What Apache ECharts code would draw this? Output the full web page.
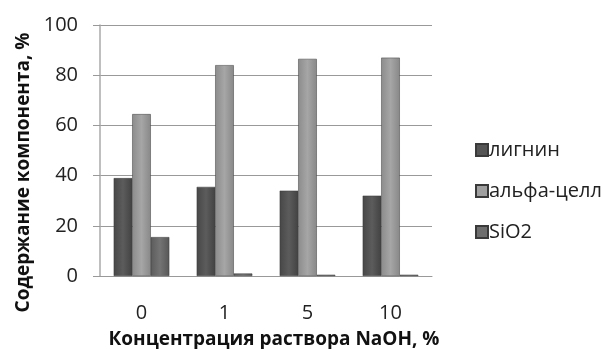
<!DOCTYPE html>
<html><head><meta charset="utf-8">
<script src="https://cdn.jsdelivr.net/npm/echarts@6/dist/echarts.min.js"></script>
<style>html,body{margin:0;padding:0;background:#fff}#c{width:603px;height:349px}</style>
</head><body><div id="c"></div>
<script>
var categories = ['0', '1', '5', '10'];
var lignin = [39, 35.5, 34, 32];
var alphaCell = [64.5, 84, 86.5, 87];
var sio2 = [15.5, 1, 0.5, 0.5];
var seriesNames = ['лигнин', 'альфа-целл', 'SiO2'];
var yTicks = [0, 20, 40, 60, 80, 100];

function grad(c1, c2, c3) {
  return new echarts.graphic.LinearGradient(0, 0, 1, 0, [
    {offset: 0, color: c1}, {offset: 0.5, color: c2}, {offset: 1, color: c3}
  ]);
}
var colors = [grad('#474747', '#5c5c5c', '#424242'), grad('#8c8c8c', '#a6a6a6', '#888'), grad('#5c5c5c', '#747474', '#575757')];
var legendColors = ['#555', '#a0a0a0', '#6e6e6e'];
var font = 'Open Sans';
var chart = echarts.init(document.getElementById('c'));
var data = [lignin, alphaCell, sio2];
chart.setOption({
  animation: false,
  grid: {left: 100, top: 25, width: 332, height: 251, containLabel: false, outerBoundsMode: 'none'},
  legend: {
    orient: 'vertical', left: 470, top: 135, itemGap: 21,
    itemWidth: 12, itemHeight: 12, icon: 'rect',
    textStyle: {fontFamily: font, fontSize: 20, lineHeight: 20, color: '#222', padding: [0, 0, 0, -4]},
    data: seriesNames.map(function (n, i) { return {name: n, itemStyle: {color: legendColors[i]}}; })
  },
  xAxis: {
    type: 'category', data: categories,
    axisLine: {lineStyle: {color: '#999'}},
    axisTick: {show: false},
    axisLabel: {fontFamily: font, fontSize: 20, color: '#222', margin: 27},
    name: 'Концентрация раствора NaOH, %', nameLocation: 'middle', nameGap: 54,
    nameTextStyle: {fontFamily: font, fontSize: 19, fontWeight: 'bold', color: '#111', padding: [0, 0, 0, 16]}
  },
  yAxis: {
    type: 'value', min: 0, max: 100, interval: 20,
    axisLine: {show: true, lineStyle: {color: '#aaa', width: 1.5}},
    axisTick: {show: true, length: 7, lineStyle: {color: '#999'}},
    splitLine: {lineStyle: {color: '#999'}},
    axisLabel: {fontFamily: font, fontSize: 20, color: '#222', margin: 22,
      formatter: function (v) { return yTicks.indexOf(v) >= 0 ? String(v) : ''; }},
    name: 'Содержание компонента, %', nameLocation: 'middle', nameGap: 65,
    nameTextStyle: {fontFamily: font, fontSize: 19, fontWeight: 'bold', color: '#111', padding: [0, 44, 0, 0]}
  },
  series: data.map(function (d, i) {
    return {
      name: seriesNames[i], type: 'bar', data: d,
      barGap: '0%', barCategoryGap: '33%',
      itemStyle: {color: colors[i], borderColor: '#3a3a3a', borderWidth: 0.5}
    };
  })
});
</script></body></html>
